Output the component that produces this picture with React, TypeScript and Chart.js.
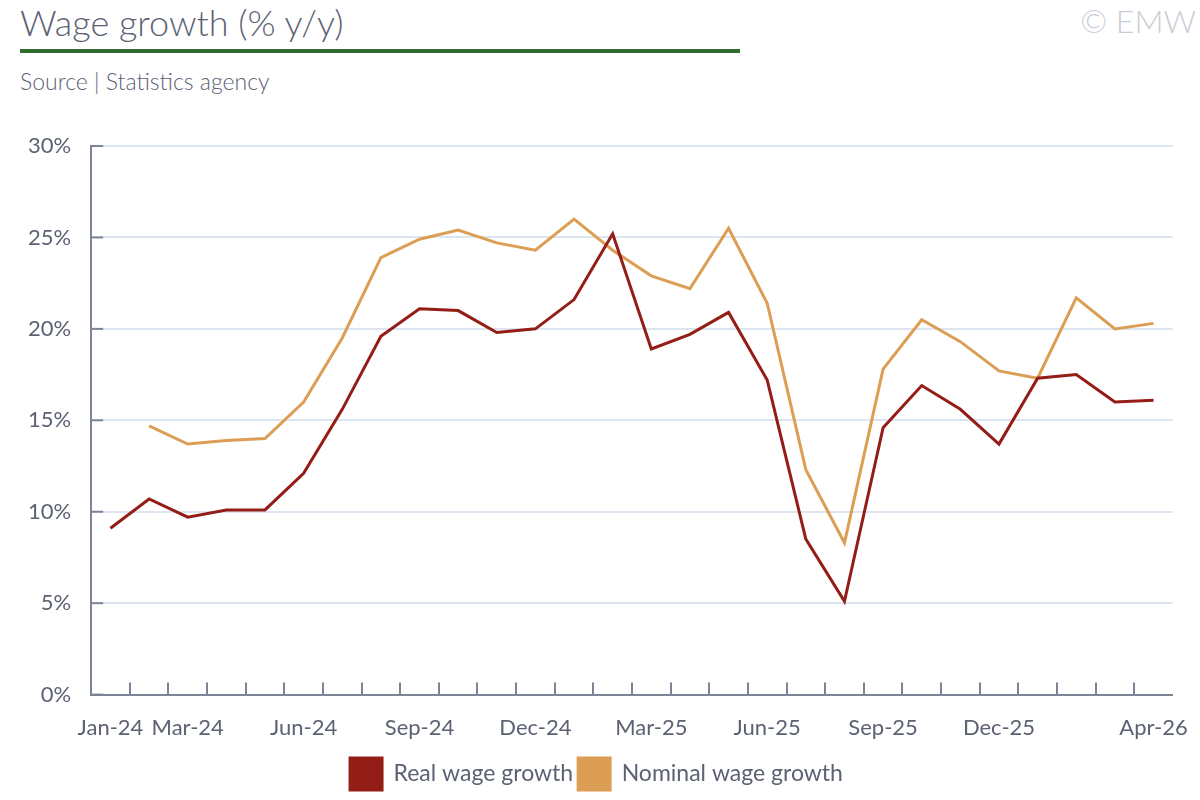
import React, { useEffect, useRef } from "react";
import { Chart, registerables } from "chart.js";
Chart.register(...registerables);

const months = ["Jan-24","Feb-24","Mar-24","Apr-24","May-24","Jun-24","Jul-24","Aug-24","Sep-24","Oct-24","Nov-24","Dec-24","Jan-25","Feb-25","Mar-25","Apr-25","May-25","Jun-25","Jul-25","Aug-25","Sep-25","Oct-25","Nov-25","Dec-25","Jan-26","Feb-26","Mar-26","Apr-26"];
const realWage = [9.1,10.7,9.7,10.1,10.1,12.1,15.6,19.6,21.1,21.0,19.8,20.0,21.6,25.2,18.9,19.7,20.9,17.2,8.5,5.1,14.6,16.9,15.6,13.7,17.3,17.5,16.0,16.1];
const nominalWage = [null,14.7,13.7,13.9,14.0,16.0,19.5,23.9,24.9,25.4,24.7,24.3,26.0,24.3,22.9,22.2,25.5,21.4,12.3,8.3,17.8,20.5,19.3,17.7,17.3,21.7,20.0,20.3];
const shownLabels = ["Jan-24","Mar-24","Jun-24","Sep-24","Dec-24","Mar-25","Jun-25","Sep-25","Dec-25","Apr-26"];

const FONT = "Lato, 'Open Sans', sans-serif";
const TXT = "#5c6273";
const AXIS = "#7c8496";

const tickPlugin = {
  id: "innerTicks",
  afterDraw(chart: any) {
    const { ctx, chartArea, scales } = chart;
    const x = scales.x, y = scales.y;
    ctx.save();
    ctx.strokeStyle = AXIS;
    ctx.lineWidth = 2;
    const step = x.getPixelForValue(1) - x.getPixelForValue(0);
    for (let i = 1; i < months.length; i++) {
      const px = Math.round(x.getPixelForValue(i) - step / 2);
      ctx.beginPath();
      ctx.moveTo(px, chartArea.bottom);
      ctx.lineTo(px, chartArea.bottom - 12);
      ctx.stroke();
    }
    for (const t of y.ticks) {
      const py = y.getPixelForValue(t.value);
      ctx.beginPath();
      ctx.moveTo(chartArea.left, py);
      ctx.lineTo(chartArea.left + 12, py);
      ctx.stroke();
    }
    ctx.restore();
  },
};

export default function App() {
  const ref = useRef<HTMLCanvasElement>(null);
  useEffect(() => {
    document.body.style.margin = "0";
    const chart = new Chart(ref.current!, {
      type: "line",
      data: {
        labels: months,
        datasets: [
          { label: "Real wage growth", data: realWage, borderColor: "#951d17", backgroundColor: "#951d17", borderWidth: 3, pointRadius: 0, tension: 0 },
          { label: "Nominal wage growth", data: nominalWage as any, borderColor: "#dc9e55", backgroundColor: "#dc9e55", borderWidth: 3, pointRadius: 0, tension: 0 },
        ],
      },
      options: {
        animation: false,
        responsive: false,
        layout: { padding: { top: 146, left: 8, right: 15, bottom: 0 } },
        plugins: {
          tooltip: { enabled: false },
          legend: {
            position: "bottom",
            labels: { boxWidth: 32, boxHeight: 32, padding: 5, color: TXT, font: { family: FONT, size: 23 } },
          },
        },
        scales: {
          x: {
            offset: true,
            grid: { display: false },
            border: { color: AXIS, width: 2 },
            ticks: {
              autoSkip: false, maxRotation: 0, color: TXT, padding: 12,
              font: { family: FONT, size: 22 },
              callback: (_v: any, i: number) => (shownLabels.includes(months[i]) ? months[i] : ""),
            },
          },
          y: {
            min: 0, max: 30,
            grid: { color: "#dde6f0", lineWidth: 2, drawTicks: false },
            border: { color: AXIS, width: 2 },
            ticks: { stepSize: 5, color: TXT, padding: 20, font: { family: FONT, size: 22 }, callback: (v: any) => v + "%" },
          },
        },
      },
      plugins: [tickPlugin],
    });
    return () => chart.destroy();
  }, []);
  return (
    <div style={{ position: "relative", width: 1200, height: 800, fontFamily: FONT, background: "#fff" }}>
      <div style={{ position: "absolute", left: 20, top: 0, fontSize: 36, fontWeight: 300, color: TXT, lineHeight: "44px" }}>Wage growth (% y/y)</div>
      <div style={{ position: "absolute", left: 20, top: 49, width: 720, height: 4, background: "#2e6b2c" }} />
      <div style={{ position: "absolute", left: 20, top: 66, fontSize: 23, fontWeight: 300, color: TXT, lineHeight: "30px" }}>Source | Statistics agency</div>
      <div style={{ position: "absolute", right: 4, top: 0, fontSize: 32, fontWeight: 300, color: "#c9cdd5", lineHeight: "42px" }}>© EMW</div>
      <canvas ref={ref} width={1200} height={800} style={{ position: "absolute", left: 0, top: 0 }} />
    </div>
  );
}
